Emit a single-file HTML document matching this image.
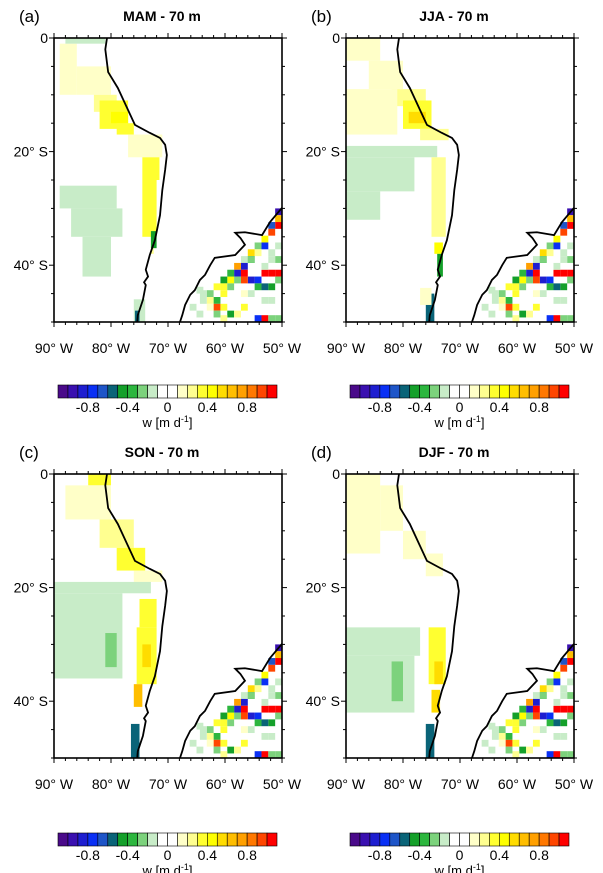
<!DOCTYPE html>
<html><head><meta charset="utf-8"><style>
html,body{margin:0;padding:0;background:#fff;}
svg{display:block;font-family:"Liberation Sans",sans-serif;}
</style></head><body>
<svg id="fig" width="603" height="873" viewBox="0 0 603 873" xmlns="http://www.w3.org/2000/svg"></svg>
<script>
// ---- data ----
const panelTitles = ["MAM - 70 m","JJA - 70 m","SON - 70 m","DJF - 70 m"];
const panelLetters = ["(a)","(b)","(c)","(d)"];
const lonTicks = [-90,-80,-70,-60,-50];
const lonTickLabels = ["90\u00B0 W","80\u00B0 W","70\u00B0 W","60\u00B0 W","50\u00B0 W"];
const latTicks = [0,-20,-40];
const latTickLabels = ["0","20\u00B0 S","40\u00B0 S"];
const cbLevels = [-1.1,-1.0,-0.9,-0.8,-0.7,-0.6,-0.5,-0.4,-0.3,-0.2,-0.1,0,0.1,0.2,0.3,0.4,0.5,0.6,0.7,0.8,0.9,1.0,1.1];
const cbColors = ["#4a0a8a","#3a10b0","#1e1ed0","#0a30f5","#1e55c8","#0a6478","#14a02a","#2cb63e","#7cd27c","#c8ecc8","#ffffff","#ffffff","#ffffc8","#ffff90","#ffff30","#ffff00","#ffdc00","#ffbe00","#ffa000","#ff7800","#ff4600","#ff0000"];
const cbTicks = [-0.8,-0.4,0,0.4,0.8];
const cbTickLabels = ["-0.8","-0.4","0","0.4","0.8"];
const westCoastLon = [-80.7,-81,-80.5,-78.8,-77,-75.8,-73.2,-71.4,-70.5,-70.2,-70.5,-71,-71.4,-72.3,-73.2,-73.9,-73.5,-74.2,-73.9,-74.4,-75.3,-75.4];
const westCoastLat = [0,-2,-6,-8.8,-12.7,-15.3,-16.7,-17.6,-18.8,-20.6,-23.2,-26.8,-31.2,-35.6,-38.2,-40.8,-42,-43,-43.5,-46.1,-48.8,-50];
const eastCoastLon = [-50,-52.1,-53.5,-56.5,-58.2,-57.3,-56.5,-58.2,-61.8,-62.6,-63.5,-64.4,-65.3,-66.1,-67,-67.5,-67.9];
const eastCoastLat = [-29.9,-32.4,-34.7,-34.2,-34.3,-35.2,-36.4,-38.2,-38.7,-40,-41.7,-42.6,-44.4,-45.2,-47,-48.8,-50];
const patchesA = [
 [-89,-1,-86,-10,0.15],[-86,-5,-80,-10,0.12],[-83,-10,-79,-13,0.25],[-82,-11,-77,-16,0.35],[-80,-13,-77,-15,0.45],[-79,-15,-76,-17,0.3],
 [-77,-17,-71,-21,0.12],[-74.5,-21,-71.5,-25,0.3],[-74.5,-25,-72,-35,0.32],[-73,-35,-72.5,-38,0.2],
 [-89,-26,-79,-30,-0.15],[-87,-30,-78,-35,-0.15],[-85,-35,-80,-42,-0.15],[-73,-34,-72,-37,-0.5],
 [-76,-46,-74,-50,-0.2],[-75.8,-48,-75,-50,-0.6],[-88,-1,-81,0,-0.15]
];
const patchesB = [
 [-90,0,-84,-4,0.18],[-86,-4,-80,-9,0.15],[-82,-9,-76,-12,0.25],[-80,-11,-75,-16,0.35],[-79,-13,-76,-15,0.5],[-77,-16,-72,-18,0.2],
 [-90,-9,-81,-17,0.12],[-90,-19,-74,-21,-0.15],[-90,-21,-78,-27,-0.15],[-90,-27,-84,-32,-0.15],
 [-75,-21,-72.5,-35,0.2],[-74.5,-36,-73,-38,0.4],[-74,-38,-73,-42,-0.5],[-76,-45,-74.5,-50,-0.6],[-77,-44,-75,-47,0.15]
];
const patchesC = [
 [-84,0,-80,-2,0.35],[-88,-2,-80,-8,0.15],[-82,-8,-76,-13,0.2],[-79,-13,-74,-17,0.3],[-76,-17,-71,-19,0.15],
 [-90,-19,-73,-21,-0.15],[-90,-21,-78,-36,-0.15],[-81,-28,-79,-34,-0.3],
 [-75,-22,-72,-27,0.3],[-75.5,-27,-72,-37,0.38],[-74.5,-30,-73,-34,0.55],[-76,-37,-74.5,-41,0.6],[-76.5,-44,-75,-50,-0.6]
];
const patchesD = [
 [-90,0,-84,-14,0.12],[-84,-2,-80,-10,0.15],[-80,-10,-76,-15,0.15],[-76,-14,-73,-18,0.1],
 [-90,-27,-77,-32,-0.15],[-90,-32,-78,-42,-0.15],[-82,-33,-80,-40,-0.3],
 [-75.5,-27,-72.5,-37,0.35],[-74.5,-33,-73,-37,0.55],[-75,-38,-73.5,-42,0.5],[-76,-44,-74.5,-50,-0.6]
];
const atlLon = [-50.6,-50.6,-50.6,-51.8,-51.8,-53,-53,-54.2,-54.2,-55.4,-55.4,-56.6,-56.6,-57.8,-57.8,-59,-59,-60.2,-60.2,-61.4,-62.6,-63.8,-50.6,-51.8,-53,-54.2,-55.4,-56.6,-57.8,-50.6,-51.8,-53,-54.2,-55.4,-56.6,-59,-60.2,-61.4,-62.6,-61.4,-60.2,-59,-57.8,-56.6,-53,-51.8,-50.6,-54.2,-60.2,-61.4,-62.6,-63.8,-50.6,-51.8,-50.6,-51.8,-53,-64.4,-65.6,-64.4,-55.4,-56.6,-51.8,-53];
const atlLat = [-30.6,-31.8,-33,-33,-34.2,-35.4,-36.6,-36.6,-37.8,-37.8,-39,-39,-40.2,-40.2,-41.4,-42.6,-41.4,-42.6,-43.8,-43.8,-45,-45,-41.4,-41.4,-41.4,-42.6,-42.6,-42.6,-42.6,-42.6,-43.8,-43.8,-43.8,-39,-41.4,-43.8,-45,-46.2,-46.2,-47.4,-47.4,-48.6,-48.6,-47.4,-49.4,-49.4,-49.4,-49.4,-49.4,-48.6,-47.4,-46.2,-36.6,-37.8,-39,-39,-40.2,-48.6,-47.4,-44.4,-45,-45,-46.2,-46.2];
const atlVal  = [-1.0,0.6,1.0,-0.7,0.9,0.4,-0.8,-0.3,0.2,0.5,-0.5,-0.2,-0.9,0.7,-0.9,0.4,-0.4,-0.5,0.3,0.35,-0.3,-0.2,1.0,1.0,1.0,-0.8,-0.9,0.9,-0.3,-0.3,-0.5,-0.6,-0.35,-0.3,1.0,-0.3,0.35,-0.4,0.2,0.9,0.35,-0.5,0.2,0.3,1.0,-0.3,-0.3,-0.8,0.2,-0.3,0.15,-0.2,-0.15,-0.15,-0.3,-0.15,-0.15,-0.15,-0.15,-0.15,-0.15,0.12,-0.15,-0.15];
const panelPatches = [patchesA,patchesB,patchesC,patchesD];
const offsets = [[0,0],[292,0],[0,436],[292,436]];

// ---- drawing ----
const svg = document.getElementById('fig');
const NS = "http://www.w3.org/2000/svg";
function mk(tag, attrs, parent){const e=document.createElementNS(NS,tag);for(const k in attrs)e.setAttribute(k,attrs[k]);(parent||svg).appendChild(e);return e;}
function colorFor(v){for(let i=0;i<cbColors.length;i++){if(v<cbLevels[i+1])return cbColors[i];}return cbColors[cbColors.length-1];}
const MX0=54, MW=228, MY0=38, MH=284;

offsets.forEach((off,p)=>{
  const ox=off[0], oy=off[1];
  const X = lon => ox+MX0+(lon+90)/40*MW;
  const Y = lat => oy+MY0+(-lat)/50*MH;
  const g = mk('g',{});
  
  
  panelPatches[p].forEach(r=>{
    const x0=X(Math.max(r[0],-90)), x1=X(Math.min(r[2],-50)), y0=Y(r[1]), y1=Y(Math.max(r[3],-50));
    const rc = mk('rect',{x:Math.min(x0,x1),y:Math.min(y0,y1),width:Math.abs(x1-x0),height:Math.abs(y1-y0),fill:colorFor(r[4])},g);
    
    
  });
  atlLon.forEach((lon,i)=>{
    const c=mk('rect',{x:X(lon-0.6),y:Y(atlLat[i]+0.6),width:1.2/40*MW,height:Math.min(1.2/50*MH,Y(-50)-Y(atlLat[i]+0.6)),fill:colorFor(atlVal[i])},g);
    
    
  });
  const wc = westCoastLon.map((l,i)=>X(l)+','+Y(westCoastLat[i])).join(' ');
  const w = mk('polyline',{points:wc,fill:'none',stroke:'#000','stroke-width':1.8},g);
  
  
  const ec = eastCoastLon.map((l,i)=>X(l)+','+Y(eastCoastLat[i])).join(' ');
  const e = mk('polyline',{points:ec,fill:'none',stroke:'#000','stroke-width':1.8},g);
  
  
  const fr = mk('rect',{x:ox+MX0,y:oy+MY0,width:MW,height:MH,fill:'none',stroke:'#000','stroke-width':1.6},g);
  
  
  for(let lon=-90;lon<=-50;lon+=2){
    const major = lon%10===0, len = major?5:3;
    mk('line',{x1:X(lon),x2:X(lon),y1:Y(-50),y2:Y(-50)+len,stroke:'#000','stroke-width':1},g);
    mk('line',{x1:X(lon),x2:X(lon),y1:Y(0),y2:Y(0)-len,stroke:'#000','stroke-width':1},g);
  }
  for(let lat=0;lat>=-50;lat-=5){
    const major = lat%20===0, len = major?5:3;
    mk('line',{x1:X(-90),x2:X(-90)-len,y1:Y(lat),y2:Y(lat),stroke:'#000','stroke-width':1},g);
    mk('line',{x1:X(-50),x2:X(-50)+len,y1:Y(lat),y2:Y(lat),stroke:'#000','stroke-width':1},g);
  }
  lonTicks.forEach((lon,i)=>{
    const t=mk('text',{x:X(lon),y:oy+353,'text-anchor':'middle','font-size':14},g);
    t.textContent=lonTickLabels[i];
    
    
  });
  latTicks.forEach((lat,i)=>{
    const t=mk('text',{x:ox+48,y:Y(lat)+5,'text-anchor':'end','font-size':14},g);
    t.textContent=latTickLabels[i];
    
    
  });
  const lt=mk('text',{x:ox+19,y:oy+22,'font-size':17},g);
  lt.textContent=panelLetters[p];
  
  
  const tt=mk('text',{x:ox+162,y:oy+21,'font-size':14,'font-weight':'bold','text-anchor':'middle'},g);
  tt.textContent=panelTitles[p];
  
  
  const cy = oy + (p<2?385:397);
  const CX0 = ox+58, CW = 219;
  const CB = v => CX0+(v+1.1)/2.2*CW;
  const cb = mk('g',{},g);
  
  
  cbColors.forEach((c,i)=>{
    mk('rect',{x:CB(cbLevels[i]),y:cy,width:CB(cbLevels[i+1])-CB(cbLevels[i]),height:13,fill:c,stroke:'#000','stroke-width':0.6},cb);
  });
  cbTicks.forEach((v,i)=>{
    const t=mk('text',{x:CB(v),y:cy+27,'text-anchor':'middle','font-size':14},cb);
    t.textContent=cbTickLabels[i];
  });
  const ut=mk('text',{x:CB(0),y:cy+42,'text-anchor':'middle','font-size':13},cb);
  ut.innerHTML='w [m d<tspan font-size="9" dy="-5">-1</tspan><tspan dy="5">]</tspan>';
  
  
});
</script>
</body></html>
